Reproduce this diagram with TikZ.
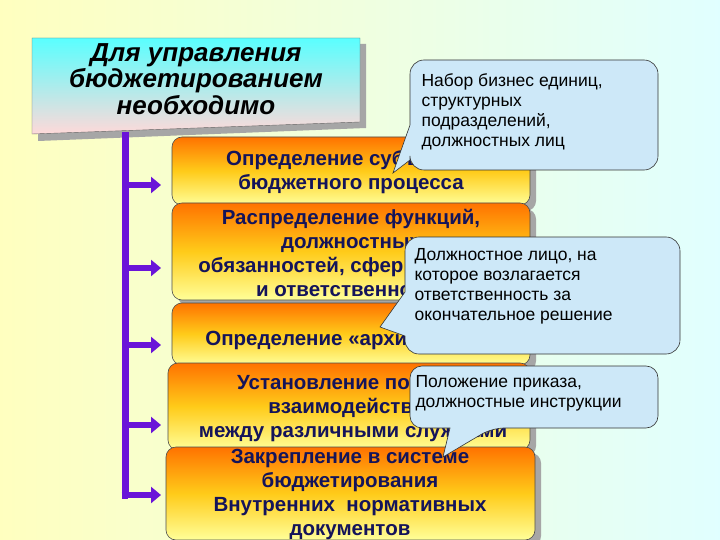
\documentclass[tikz,border=0pt]{standalone}
\usepackage{fontspec}
\setmainfont{Liberation Sans}
\usetikzlibrary{arrows.meta}
\definecolor{navy}{HTML}{14145A}
\definecolor{vio}{HTML}{6A14D8}
\definecolor{cal}{HTML}{CDE8F8}
\tikzset{
 obox/.style={draw=black!70, line width=0.6pt, rounded corners=10pt, top color=orange!90!red, bottom color=yellow!40, middle color=orange!45!yellow!90},
 shad/.style={fill=black!35, rounded corners=10pt},
 otext/.style={font=\bfseries\fontsize{20.5}{24}\selectfont, text=navy, align=center},
 callout/.style={draw=black!80, line width=0.6pt, fill=cal},
 ctext/.style={font=\fontsize{17.5}{20}\selectfont, align=left, anchor=north west},
 parrow/.style={-{Triangle[length=10pt,width=16pt]}, line width=6pt, draw=vio}
}
\begin{document}
\begin{tikzpicture}[x=1pt,y=-1pt]
\shade[left color=yellow!25, right color=cyan!12] (0,0) rectangle (720,540);
\useasboundingbox (0,0) rectangle (720,540);
% top box
\fill[black!35] (38,44) -- (366,44) -- (366,128) -- (38,141) -- cycle;
\shade[top color=cyan!65, bottom color=pink!60, draw=black!60] (32,38) -- (360,38) -- (360,122) -- (32,134) -- cycle;
\node[font=\bfseries\itshape\fontsize{26}{26.5}\selectfont, align=center] (top) at (196,79) {Для управления\\бюджетированием\\необходимо};
% bar
\coordinate (b0) at (125,132);
\coordinate (b1) at (125,497);
\draw[vio, line width=7pt] (b0) -- (b1);
% boxes
\fill[shad] (178,143) rectangle (536,211);
\path[obox] (172,137) rectangle (530,205);
\node[otext] (n1) at (351,172) {Определение субъектов\\бюджетного процесса};
\fill[shad] (178,209) rectangle (536,306);
\path[obox] (172,203) rectangle (530,300);
\node[otext] (n2) at (351,253) {Распределение функций,\\должностных\\обязанностей, сфер контроля\\и ответственности};
\fill[shad] (178,309) rectangle (536,371);
\path[obox] (172,303) rectangle (530,365);
\node[otext] (n3) at (351,340) {Определение «архитектора»};
\fill[shad] (174,369) rectangle (536,456);
\path[obox] (168,363) rectangle (530,450);
\node[otext] (n4) at (353,409) {Установление порядка\\взаимодействия\\между различными службами};
\fill[shad] (172,453) rectangle (541,546);
\path[obox] (166,447) rectangle (535,540);
\node[otext] (n5) at (350,494) {Закрепление в системе\\бюджетирования\\Внутренних\ \ нормативных\\документов};
% arrows
\foreach \y/\t in {185/n1,268/n2,345/n3,425/n4,495/n5}{
  \coordinate (a\t) at (122,\y);
  \coordinate (e\t) at (161,\y);
  \draw[parrow] (a\t) -- (e\t);
}
\draw[vio, line width=7pt] (121.5,495) -- (128,495);
% callouts
\draw[callout, rounded corners=14pt] (500,60) -- (658,60) -- (658,170) -- (410,170) [sharp corners] -- (410,160) -- (393,173) -- (410,125) [rounded corners=14pt] -- (410,60) -- (500,60);
\node[ctext] (c1) at (418,70) {Набор бизнес единиц,\\структурных\\подразделений,\\должностных лиц};
\draw[callout, rounded corners=14pt] (540,237) -- (680,237) -- (680,354) -- (405,354) [sharp corners] -- (405,336) -- (380,327) -- (405,292) [rounded corners=14pt] -- (405,237) -- (540,237);
\node[ctext] (c2) at (411,245) {Должностное лицо, на\\которое возлагается\\ответственность за\\окончательное решение};
\draw[callout, rounded corners=12pt] (540,366) -- (658,366) -- (658,428) -- (492,428) [sharp corners] -- (443,457) -- (450,428) [rounded corners=12pt] -- (410,428) -- (410,366) -- (540,366);
\node[ctext] (c3) at (412,372) {Положение приказа,\\должностные инструкции};
\end{tikzpicture}
\end{document}
